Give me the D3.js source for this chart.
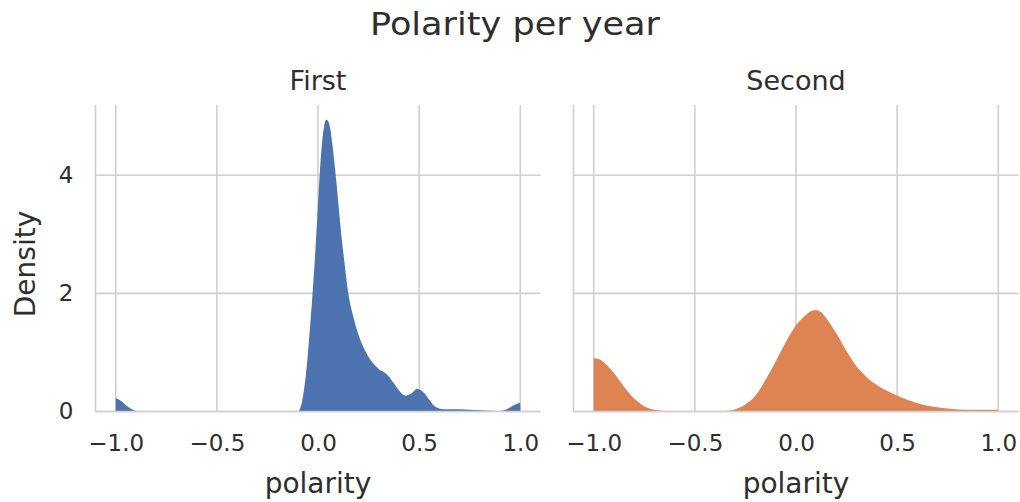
<!DOCTYPE html>
<html>
<head>
<meta charset="utf-8">
<script src="https://cdn.jsdelivr.net/npm/d3@7"></script>
<style>
  body { margin: 0; background: #fff; }
  text { font-family: "DejaVu Sans", sans-serif; fill: #2e2e2e; }
</style>
</head>
<body>
<script>
// kde curves (polarity, density)
var firstX = [-1.0, -0.97, -0.94, -0.91, -0.88, -0.5, -0.1, -0.09, -0.08, -0.07, -0.06, -0.05, -0.04, -0.03, -0.02, -0.01, 0.0, 0.01, 0.02, 0.03, 0.04, 0.05, 0.06, 0.07, 0.08, 0.09, 0.1, 0.115, 0.13, 0.15, 0.175, 0.2, 0.23, 0.26, 0.3, 0.34, 0.37, 0.4, 0.43, 0.46, 0.49, 0.52, 0.55, 0.58, 0.62, 0.7, 0.8, 0.9, 0.94, 0.97, 1.0];
var firstY = [0.23, 0.17, 0.08, 0.02, 0.0, 0.0, 0.0, 0.04, 0.15, 0.35, 0.62, 0.98, 1.4, 1.85, 2.35, 2.9, 3.5, 4.1, 4.55, 4.82, 4.94, 4.92, 4.8, 4.55, 4.25, 3.92, 3.55, 3.0, 2.55, 2.0, 1.6, 1.3, 1.05, 0.87, 0.72, 0.63, 0.5, 0.36, 0.27, 0.3, 0.38, 0.33, 0.2, 0.08, 0.04, 0.04, 0.02, 0.01, 0.05, 0.11, 0.15];

var secondX = [-1.0, -0.97, -0.94, -0.9, -0.85, -0.8, -0.75, -0.7, -0.65, -0.6, -0.4, -0.35, -0.3, -0.25, -0.2, -0.15, -0.1, -0.05, 0.0, 0.05, 0.075, 0.1, 0.125, 0.15, 0.2, 0.25, 0.3, 0.35, 0.4, 0.45, 0.5, 0.55, 0.6, 0.7, 0.8, 0.9, 1.0];
var secondY = [0.9, 0.88, 0.8, 0.65, 0.42, 0.22, 0.09, 0.03, 0.01, 0.0, 0.0, 0.01, 0.04, 0.12, 0.27, 0.54, 0.85, 1.18, 1.46, 1.64, 1.7, 1.72, 1.68, 1.58, 1.32, 1.02, 0.76, 0.58, 0.45, 0.35, 0.27, 0.2, 0.14, 0.07, 0.035, 0.03, 0.03];

var panelNames = ["First", "Second"];
var panelColors = ["#4c72b0", "#dd8452"];
var xTicks = [-1, -0.5, 0, 0.5, 1];
var yTicks = [0, 2, 4];

var width = 1020, height = 502;
var top0 = 105, bottom0 = 411.5;
var panelW = 445;
var panelLeft = [95.5, 573.5];
var gridColor = "#d0d0d0";

var svg = d3.select("body").append("svg")
  .attr("width", width).attr("height", height);

var y = d3.scaleLinear().domain([0, 5.19]).range([bottom0, top0]);

var series = [
  firstX.map(function(d, i) { return [d, firstY[i]]; }),
  secondX.map(function(d, i) { return [d, secondY[i]]; })
];

svg.append("text")
  .attr("x", 515).attr("y", 35)
  .attr("text-anchor", "middle")
  .attr("font-size", 32)
  .attr("textLength", 290).attr("lengthAdjust", "spacingAndGlyphs")
  .text("Polarity per year");

panelNames.forEach(function(name, p) {
  var x = d3.scaleLinear().domain([-1.1, 1.1]).range([0, panelW]);
  var g = svg.append("g").attr("transform", "translate(" + panelLeft[p] + ",0)");

  // grid
  g.selectAll(".vgrid").data(xTicks).enter().append("line")
    .attr("x1", function(d) { return x(d); }).attr("x2", function(d) { return x(d); })
    .attr("y1", top0).attr("y2", bottom0)
    .attr("stroke", gridColor).attr("stroke-width", 1.6);
  g.selectAll(".hgrid").data(yTicks).enter().append("line")
    .attr("x1", 0).attr("x2", panelW)
    .attr("y1", function(d) { return y(d); }).attr("y2", function(d) { return y(d); })
    .attr("stroke", gridColor).attr("stroke-width", 1.6);

  // density fill
  var area = d3.area()
    .x(function(d) { return x(d[0]); })
    .y0(y(0))
    .y1(function(d) { return y(d[1]); })
    .curve(d3.curveMonotoneX);
  g.append("path").datum(series[p])
    .attr("d", area)
    .attr("fill", panelColors[p]);

  // spines (left + bottom)
  g.append("line").attr("x1", 0).attr("x2", 0).attr("y1", top0).attr("y2", bottom0)
    .attr("stroke", gridColor).attr("stroke-width", 1.6);
  g.append("line").attr("x1", 0).attr("x2", panelW).attr("y1", bottom0).attr("y2", bottom0)
    .attr("stroke", gridColor).attr("stroke-width", 1.6);

  // x tick labels
  var xAxis = d3.axisBottom(x).tickValues(xTicks).tickSize(0).tickPadding(0)
    .tickFormat(d3.format(".1f"));
  var ax = g.append("g").attr("transform", "translate(0," + (bottom0 + 28) + ")").call(xAxis);
  ax.select(".domain").remove();
  ax.selectAll("text").attr("font-size", 23).attr("fill", "#2e2e2e")
    .attr("font-family", "DejaVu Sans").attr("dy", "0.5em");

  if (p === 0) {
    var yAxis = d3.axisLeft(y).tickValues(yTicks).tickSize(0).tickPadding(22)
      .tickFormat(d3.format("d"));
    var ay = g.append("g").call(yAxis);
    ay.select(".domain").remove();
    ay.selectAll("text").attr("font-size", 23).attr("fill", "#2e2e2e")
      .attr("font-family", "DejaVu Sans");

    svg.append("text")
      .attr("transform", "translate(35,264) rotate(-90)")
      .attr("text-anchor", "middle")
      .attr("font-size", 28)
      .text("Density");
  }

  g.append("text")
    .attr("x", panelW / 2).attr("y", 90)
    .attr("text-anchor", "middle")
    .attr("font-size", 27)
    .text(name);

  g.append("text")
    .attr("x", panelW / 2).attr("y", 493)
    .attr("text-anchor", "middle")
    .attr("font-size", 28)
    .text("polarity");
});
</script>
</body>
</html>
